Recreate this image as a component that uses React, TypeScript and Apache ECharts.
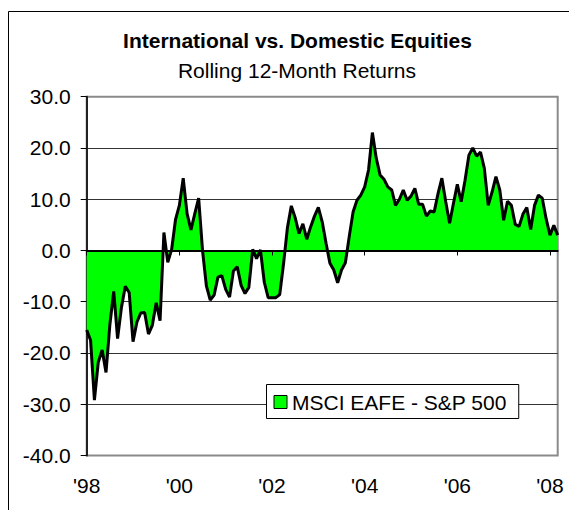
import React, { useEffect, useRef } from "react";
import * as echarts from "echarts";

const FONT = '"Liberation Sans", Arial, sans-serif';

const START_YEAR = 1998;
const MONTH_NAMES = ["Jan", "Feb", "Mar", "Apr", "May", "Jun", "Jul", "Aug", "Sep", "Oct", "Nov", "Dec"];

// Rolling 12-month return difference, MSCI EAFE minus S&P 500, Jan 1998 .. Mar 2008
const spread = [
  -15.5, -17.5, -29.2, -21.8, -19.4, -23.8, -14.5, -8.0, -17.2, -11.1, -7.0, -8.2,
  -17.8, -14.0, -12.2, -12.1, -16.3, -14.6, -10.2, -13.7, 3.5, -2.3, 0.2, 6.0,
  8.8, 14.1, 7.2, 4.0, 7.2, 10.2, 0.0, -6.9, -9.7, -8.7, -5.2, -4.9,
  -7.6, -9.1, -4.0, -3.2, -6.8, -8.4, -7.2, 0.2, -1.6, 0.1, -6.2, -9.2,
  -9.2, -9.2, -8.6, -2.5, 4.5, 8.7, 6.4, 3.3, 5.2, 2.2, 4.6, 6.7,
  8.4, 5.6, 1.4, -2.5, -3.8, -6.3, -3.8, -2.4, 2.7, 7.5, 9.8, 10.8,
  12.4, 15.7, 23.0, 18.0, 14.7, 13.9, 12.4, 11.8, 8.8, 10.0, 11.8, 9.8,
  10.6, 12.1, 9.0, 9.0, 6.7, 7.7, 7.5, 11.1, 14.1, 9.5, 5.3, 9.2,
  12.9, 9.5, 13.7, 18.6, 20.0, 18.4, 19.2, 16.0, 8.8, 11.4, 14.4, 11.8,
  5.9, 9.6, 8.8, 5.1, 4.7, 7.1, 8.4, 4.1, 8.8, 10.8, 10.2, 6.2,
  3.0, 4.9, 3.0,
];

const categories = spread.map(
  (_, i) => `${MONTH_NAMES[i % 12]} ${START_YEAR + Math.floor(i / 12)}`
);

const tickLabels = ["'98", "'00", "'02", "'04", "'06", "'08"];
const TICK_EVERY = 24;

const SERIES_NAME = "MSCI EAFE - S&P 500";
const TITLE = "International vs. Domestic Equities";
const SUBTITLE = "Rolling 12-Month Returns";

export default function App() {
  const ref = useRef<HTMLDivElement>(null);

  useEffect(() => {
    if (!ref.current) return;
    const chart = echarts.init(ref.current, undefined, { renderer: "svg" });
    chart.setOption({
      animation: false,
      backgroundColor: "#fff",
      grid: {
        left: 86.7,
        top: 96.7,
        right: 11.3,
        bottom: 54.5,
        show: true,
        borderColor: "#8a8a8a",
        borderWidth: 2,
        backgroundColor: "transparent",
      },
      graphic: [
        {
          type: "rect",
          silent: true,
          z: -10,
          shape: { x: 8.5, y: 11.5, width: 640, height: 640 },
          style: { fill: "none", stroke: "#000", lineWidth: 1 },
        },
        {
          type: "text",
          x: 297.5,
          y: 30,
          style: {
            text: TITLE,
            fontFamily: FONT,
            fontSize: 21,
            fontWeight: "bold",
            fill: "#000",
            align: "center",
            verticalAlign: "top",
          },
        },
        {
          type: "text",
          x: 297,
          y: 60,
          style: {
            text: SUBTITLE,
            fontFamily: FONT,
            fontSize: 21,
            fill: "#000",
            align: "center",
            verticalAlign: "top",
          },
        },
      ],
      legend: {
        left: 266.5,
        top: 384.5,
        orient: "horizontal",
        backgroundColor: "#fff",
        borderColor: "#000",
        borderWidth: 1,
        borderRadius: 0,
        padding: [7, 12, 6, 7],
        itemWidth: 13,
        itemHeight: 13,
        itemGap: 0,
        icon: "rect",
        textStyle: { fontFamily: FONT, fontSize: 21, color: "#000", padding: [0, 0, 0, 0] },
        itemStyle: { color: "#00ff00", borderColor: "#000", borderWidth: 1 },
        data: [{ name: SERIES_NAME, icon: "rect" }],
      },
      xAxis: [
        {
          type: "category",
          data: categories,
          boundaryGap: false,
          position: "bottom",
          z: 5,
          axisLine: { show: true, onZero: true, lineStyle: { color: "#000", width: 2 } },
          axisTick: { show: true, interval: TICK_EVERY - 1, length: 5, lineStyle: { color: "#000", width: 1 } },
          axisLabel: { show: false },
          splitLine: { show: false },
        },
        {
          type: "category",
          data: categories,
          boundaryGap: false,
          position: "bottom",
          axisLine: { show: false, onZero: false },
          axisTick: { show: false },
          splitLine: { show: false },
          axisLabel: {
            show: true,
            interval: TICK_EVERY - 1,
            margin: 19,
            fontFamily: FONT,
            fontSize: 21,
            color: "#000",
            formatter: (_v: string, idx: number) =>
              idx % TICK_EVERY === 0 ? tickLabels[idx / TICK_EVERY] ?? "" : "",
          },
        },
      ],
      yAxis: {
        type: "value",
        min: -40,
        max: 30,
        interval: 10,
        axisLine: { show: true, onZero: false, lineStyle: { color: "#222", width: 2 } },
        axisTick: { show: true, length: 6, lineStyle: { color: "#000", width: 1 } },
        axisLabel: {
          margin: 16,
          fontFamily: FONT,
          fontSize: 21,
          color: "#000",
          formatter: (v: number) => v.toFixed(1),
        },
        splitLine: {
          show: true,
          showMinLine: false,
          showMaxLine: false,
          lineStyle: { color: "#333", width: 1 },
        },
      },
      series: [
        {
          name: SERIES_NAME,
          type: "line",
          xAxisIndex: 0,
          data: spread,
          symbol: "none",
          showSymbol: false,
          itemStyle: { color: "#00ff00" },
          lineStyle: { color: "#000", width: 3 },
          areaStyle: { color: "#00ff00", opacity: 1, origin: "auto" },
          z: 2,
        },
      ],
    });
    return () => chart.dispose();
  }, []);

  return (
    <div
      ref={ref}
      style={{ position: "fixed", left: 0, top: 0, width: 569, height: 510 }}
    />
  );
}
